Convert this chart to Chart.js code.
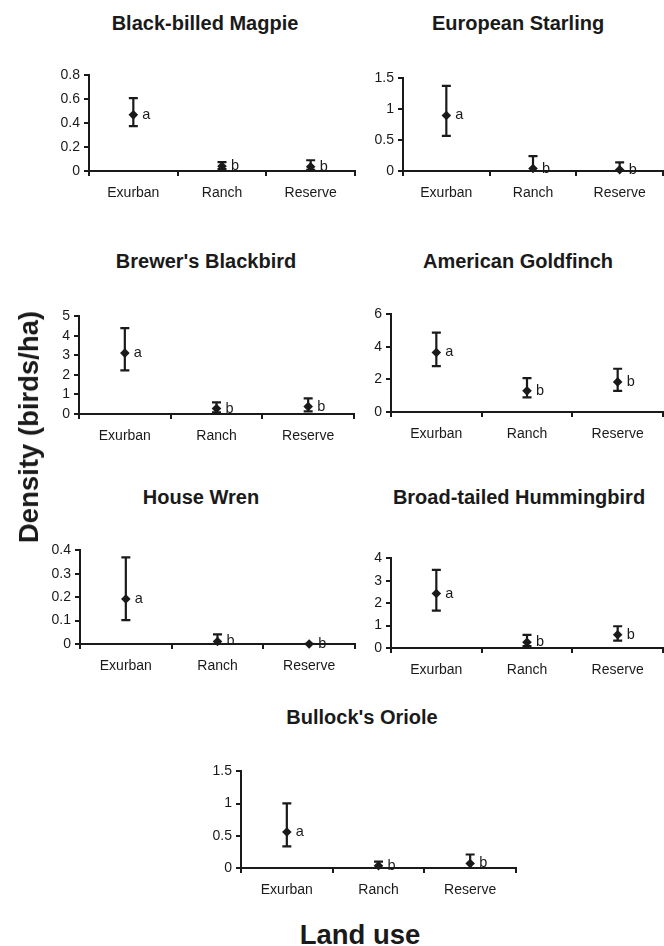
<!DOCTYPE html>
<html>
<head>
<meta charset="utf-8">
<script src="https://cdn.jsdelivr.net/npm/chart.js@4.4.1/dist/chart.umd.min.js"></script>
<style>
  html, body { margin: 0; padding: 0; background: #fff; overflow: hidden; }
  body { width: 664px; height: 946px; position: relative; font-family: "Liberation Sans", Arial, sans-serif; color: #1a1a1a; }
  canvas { position: absolute; }
  .title { position: absolute; font-weight: bold; font-size: 20px; white-space: nowrap; transform: translate(-50%, -50%); }
  .axt { position: absolute; font-weight: bold; font-size: 27.5px; white-space: nowrap; transform: translate(-50%, -50%); }
</style>
</head>
<body>
<script>
// ---- data ----
const categories = ["Exurban", "Ranch", "Reserve"];
const species = ["Black-billed Magpie", "European Starling", "Brewer's Blackbird", "American Goldfinch", "House Wren", "Broad-tailed Hummingbird", "Bullock's Oriole"];
const letters = ["a", "b", "b"];

const magpieMean  = [0.47, 0.04, 0.035];
const magpieUpper = [0.61, 0.075, 0.09];
const magpieLower = [0.375, 0.015, 0.01];

const starlingMean  = [0.90, 0.04, 0.02];
const starlingUpper = [1.38, 0.24, 0.14];
const starlingLower = [0.57, 0.0, 0.0];

const blackbirdMean  = [3.12, 0.28, 0.38];
const blackbirdUpper = [4.40, 0.60, 0.80];
const blackbirdLower = [2.23, 0.08, 0.13];

const goldfinchMean  = [3.66, 1.30, 1.85];
const goldfinchUpper = [4.88, 2.08, 2.66];
const goldfinchLower = [2.82, 0.90, 1.30];

const wrenMean  = [0.192, 0.011, 0.0];
const wrenUpper = [0.37, 0.041, 0.001];
const wrenLower = [0.102, 0.0, 0.0];

const hummingbirdMean  = [2.43, 0.26, 0.59];
const hummingbirdUpper = [3.49, 0.59, 0.97];
const hummingbirdLower = [1.67, 0.09, 0.33];

const orioleMean  = [0.56, 0.035, 0.07];
const orioleUpper = [1.005, 0.10, 0.21];
const orioleLower = [0.335, 0.0, 0.0];

const yMax  = [0.8, 1.5, 5, 6, 0.4, 4, 1.5];
const yStep = [0.2, 0.5, 1, 2, 0.1, 1, 0.5];

const means  = [magpieMean, starlingMean, blackbirdMean, goldfinchMean, wrenMean, hummingbirdMean, orioleMean];
const uppers = [magpieUpper, starlingUpper, blackbirdUpper, goldfinchUpper, wrenUpper, hummingbirdUpper, orioleUpper];
const lowers = [magpieLower, starlingLower, blackbirdLower, goldfinchLower, wrenLower, hummingbirdLower, orioleLower];

// ---- layout (plot area edges in page pixels) ----
const panels = [
  { L: 89,  R: 355, T: 73,  B: 171, tx: 205, ty: 23 },
  { L: 403, R: 663, T: 76,  B: 171, tx: 518, ty: 23 },
  { L: 79,  R: 354, T: 314, B: 414, tx: 206, ty: 261 },
  { L: 391, R: 663, T: 312, B: 412, tx: 518, ty: 261 },
  { L: 80,  R: 355, T: 548, B: 644, tx: 201, ty: 497 },
  { L: 391, R: 663, T: 556, B: 648, tx: 519, ty: 497 },
  { L: 241, R: 516, T: 769, B: 868, tx: 362, ty: 717 }
];

const YW = 45, XH = 35, PADT = 10, PADR = 8;
const FONT = "'Liberation Sans', Arial, sans-serif";
const INK = '#1a1a1a';

const errorPlugin = {
  id: 'errbars',
  beforeDatasetsDraw(chart, args, opts) {
    const ctx = chart.ctx, xs = chart.scales.x, ys = chart.scales.y;
    ctx.save();
    ctx.strokeStyle = INK; ctx.lineWidth = 2.2;
    opts.upper.forEach((u, i) => {
      const x = xs.getPixelForValue(i);
      const yu = ys.getPixelForValue(u), yl = ys.getPixelForValue(opts.lower[i]);
      ctx.beginPath();
      ctx.moveTo(x, yu); ctx.lineTo(x, yl);
      ctx.moveTo(x - 4.5, yu); ctx.lineTo(x + 4.5, yu);
      ctx.moveTo(x - 4.5, yl); ctx.lineTo(x + 4.5, yl);
      ctx.stroke();
    });
    ctx.restore();
  },
  afterDatasetsDraw(chart, args, opts) {
    const ctx = chart.ctx, xs = chart.scales.x, ys = chart.scales.y;
    ctx.save();
    ctx.fillStyle = INK;
    ctx.font = "14.5px " + FONT;
    ctx.textAlign = 'left'; ctx.textBaseline = 'middle';
    opts.letters.forEach((t, i) => {
      const x = xs.getPixelForValue(i);
      const y = ys.getPixelForValue(opts.mean[i]);
      ctx.fillText(t, x + 9, y);
    });
    ctx.restore();
  }
};

panels.forEach((p, k) => {
  const c = document.createElement('canvas');
  const w = p.R - p.L + YW + PADR, h = p.B - p.T + PADT + XH;
  c.width = w; c.height = h;
  c.style.left = (p.L - YW) + 'px'; c.style.top = (p.T - PADT) + 'px';
  c.style.width = w + 'px'; c.style.height = h + 'px';
  document.body.appendChild(c);

  const t = document.createElement('div');
  t.className = 'title'; t.textContent = species[k];
  t.style.left = p.tx + 'px'; t.style.top = p.ty + 'px';
  document.body.appendChild(t);

  new Chart(c, {
    type: 'line',
    data: {
      labels: categories,
      datasets: [{
        data: means[k],
        showLine: false,
        pointStyle: 'rectRot',
        pointRadius: 4.8,
        pointBackgroundColor: INK,
        pointBorderColor: INK,
        pointBorderWidth: 0
      }]
    },
    options: {
      responsive: false,
      animation: false,
      devicePixelRatio: 1,
      clip: false,
      layout: { padding: { top: PADT, right: PADR, left: 0, bottom: 0 } },
      plugins: {
        legend: { display: false },
        tooltip: { enabled: false },
        errbars: { upper: uppers[k], lower: lowers[k], mean: means[k], letters: letters }
      },
      scales: {
        x: {
          type: 'category',
          offset: true,
          grid: { offset: true, drawOnChartArea: false, color: INK, lineWidth: 2, tickLength: 5 },
          border: { display: true, color: INK, width: 2 },
          ticks: { color: INK, font: { family: FONT, size: 14 }, padding: 9, maxRotation: 0, autoSkip: false },
          afterFit(s) { s.height = XH; }
        },
        y: {
          min: 0, max: yMax[k],
          grid: { drawOnChartArea: false, color: INK, lineWidth: 2, tickLength: 5 },
          border: { display: true, color: INK, width: 2 },
          ticks: {
            stepSize: yStep[k], autoSkip: false, color: INK, font: { family: FONT, size: 14 }, padding: 4,
            callback: v => String(+v.toFixed(2))
          },
          afterFit(s) { s.width = YW; }
        }
      }
    },
    plugins: [errorPlugin]
  });
});

const xl = document.createElement('div');
xl.className = 'axt'; xl.textContent = 'Land use';
xl.style.left = '360px'; xl.style.top = '935px';
document.body.appendChild(xl);

const yl = document.createElement('div');
yl.className = 'axt'; yl.textContent = 'Density (birds/ha)';
yl.style.left = '29px'; yl.style.top = '427px';
yl.style.transform = 'translate(-50%, -50%) rotate(-90deg)';
document.body.appendChild(yl);
</script>
</body>
</html>
